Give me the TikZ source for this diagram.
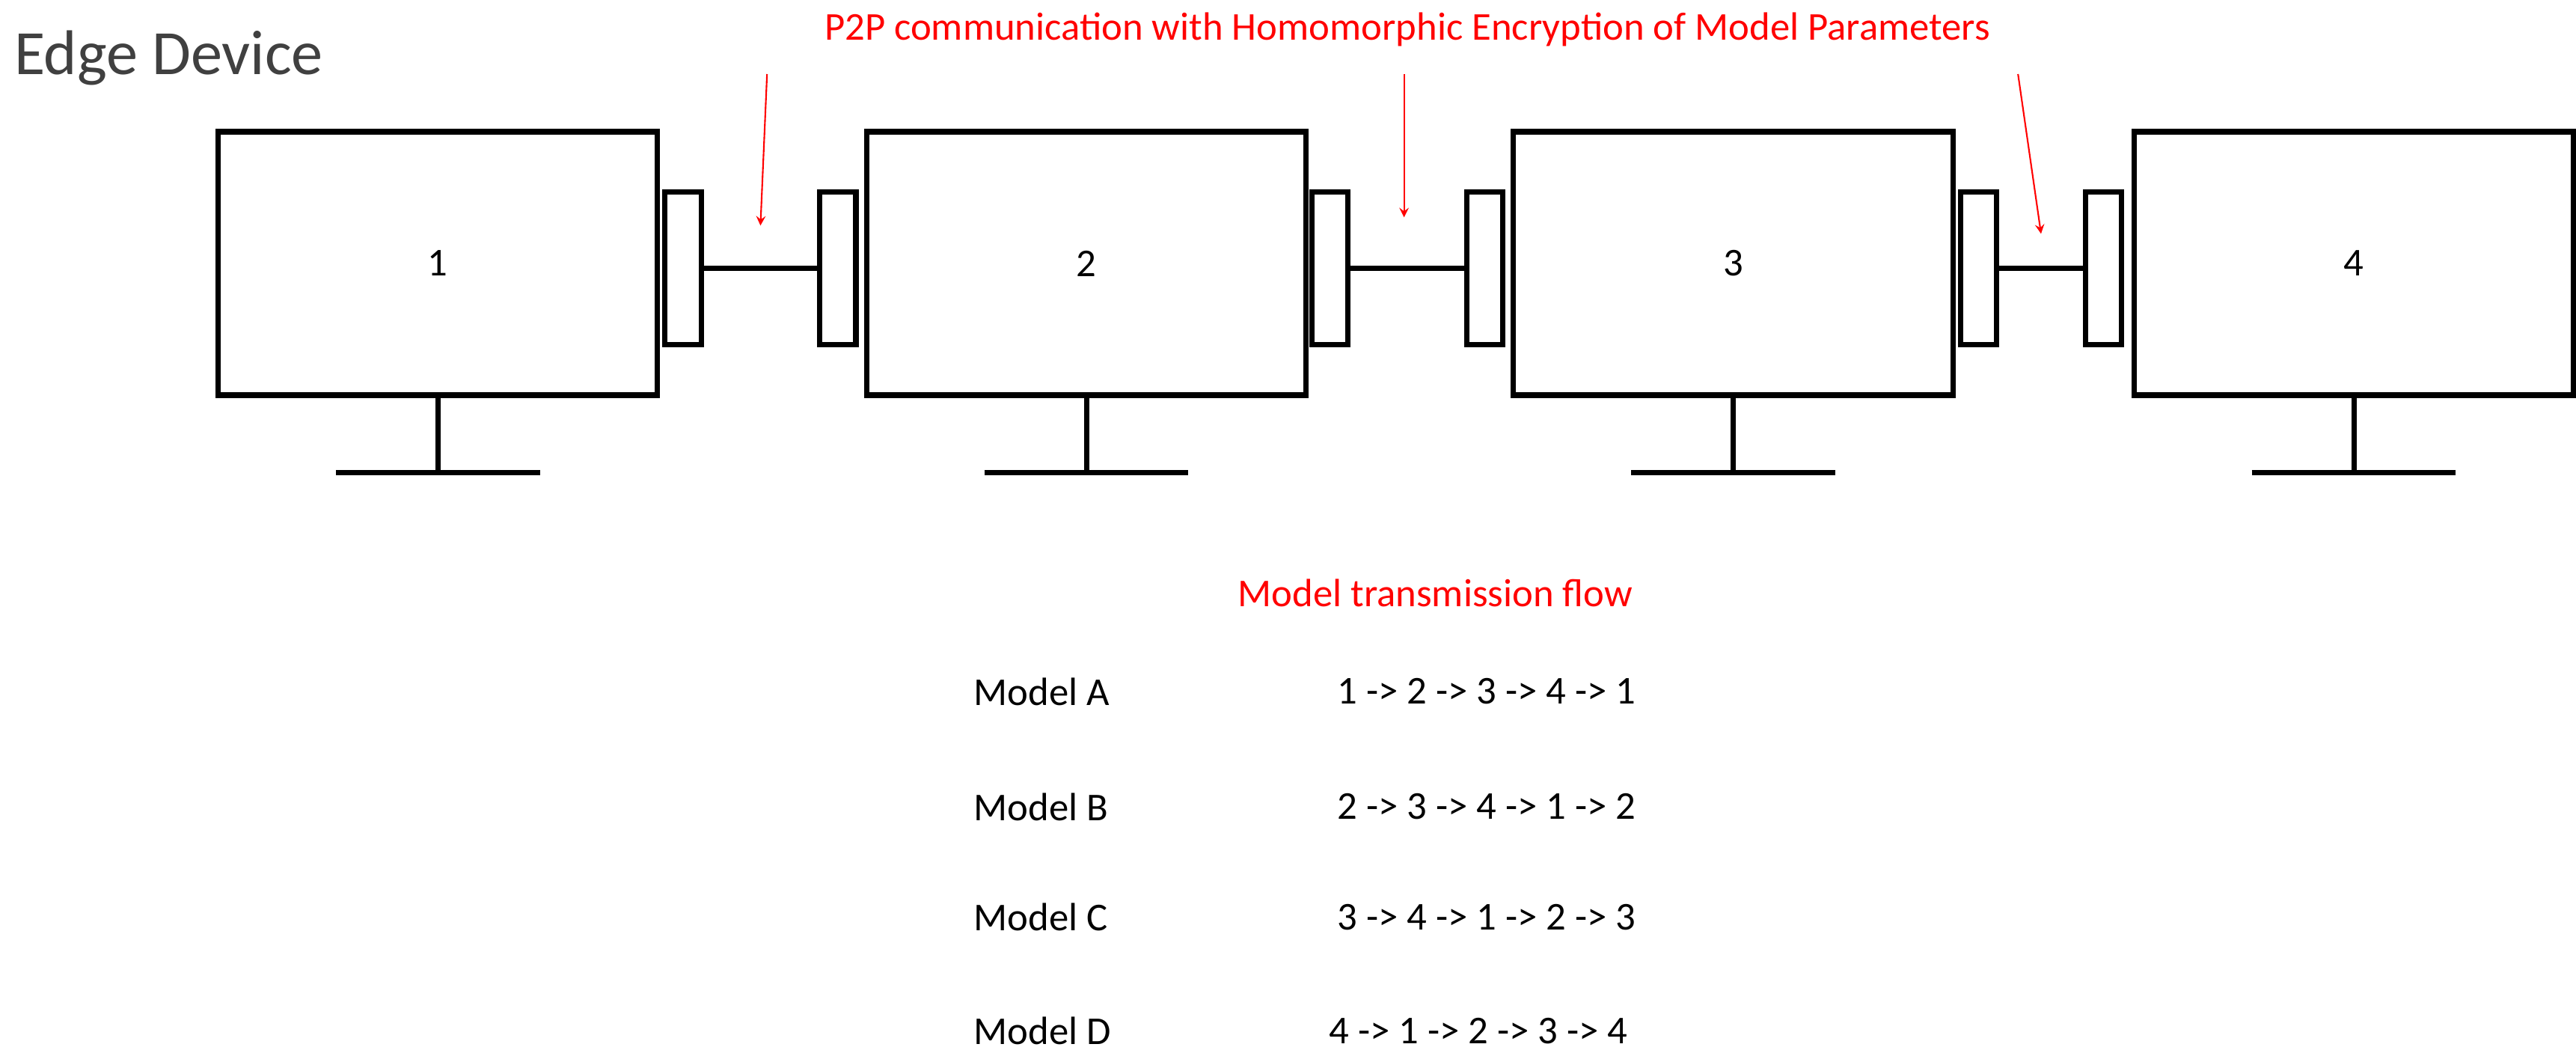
\documentclass[tikz,border=0pt]{standalone}
\usepackage{fontspec}
\setmainfont{Carlito}
\usetikzlibrary{positioning}
\definecolor{edgegray}{RGB}{64,64,64}
\tikzset{
  screen/.style={draw, line width=2pt, minimum width=267*0.022cm, minimum height=160*0.022cm, font=\fontsize{15}{18}\selectfont},
  port/.style={draw, line width=2pt, minimum width=22*0.022cm, minimum height=93*0.022cm},
  wire/.style={line width=2pt},
  note/.style={text=red, font=\fontsize{15}{18}\selectfont},
  callout/.style={red, line width=0.6pt, ->, >=stealth},
  row/.style={font=\fontsize{15}{18}\selectfont}
}
\begin{document}
\begin{tikzpicture}[x=0.022cm, y=-0.022cm]
  \useasboundingbox (0,0) rectangle (1565,641);
  \node[text=edgegray, font=\fontsize{24}{28}\selectfont, anchor=west] (title) at (3,35) {Edge Device};

  % monitors
  \foreach \i/\x in {1/266, 2/660, 3/1053, 4/1430} {
    \node[screen] (s\i) at (\x,160) {\i};
    \coordinate (b\i) at (\x,287);
    \draw[wire] (s\i.south) -- (b\i);
    \draw[wire] ([xshift=-62*0.022cm]b\i) -- ([xshift=62*0.022cm]b\i);
  }

  % links
  \node[port] (p1r) at (415,163) {};
  \node[port] (p2l) at (509,163) {};
  \node[port] (p2r) at (808,163) {};
  \node[port] (p3l) at (902,163) {};
  \node[port] (p3r) at (1202,163) {};
  \node[port] (p4l) at (1278,163) {};
  \draw[wire] (p1r.east) -- (p2l.west);
  \draw[wire] (p2r.east) -- (p3l.west);
  \draw[wire] (p3r.east) -- (p4l.west);

  % encryption note
  \node[note] (p2p) at (855,18) {P2P communication with Homomorphic Encryption of Model Parameters};
  \coordinate (c1) at (466,45);
  \coordinate (c2) at (853,45);
  \coordinate (c3) at (1226,45);
  \coordinate (t1) at (462,137);
  \coordinate (t2) at (853,132);
  \coordinate (t3) at (1240,142);
  \draw[callout] (c1) -- (t1);
  \draw[callout] (c2) -- (t2);
  \draw[callout] (c3) -- (t3);

  % flow table
  \node[note] (flow) at (872,360) {Model transmission flow};
  \node[row, anchor=west] (mA) at (586,420) {Model A};
  \node[row, anchor=west] (mB) at (586,490) {Model B};
  \node[row, anchor=west] (mC) at (586,557) {Model C};
  \node[row, anchor=west] (mD) at (586,626) {Model D};
  \node[row, anchor=west] (fA) at (807,420) {1 -> 2 -> 3 -> 4 -> 1};
  \node[row, anchor=west] (fB) at (807,490) {2 -> 3 -> 4 -> 1 -> 2};
  \node[row, anchor=west] (fC) at (807,557) {3 -> 4 -> 1 -> 2 -> 3};
  \node[row, anchor=west] (fD) at (802,626) {4 -> 1 -> 2 -> 3 -> 4};
\end{tikzpicture}
\end{document}
